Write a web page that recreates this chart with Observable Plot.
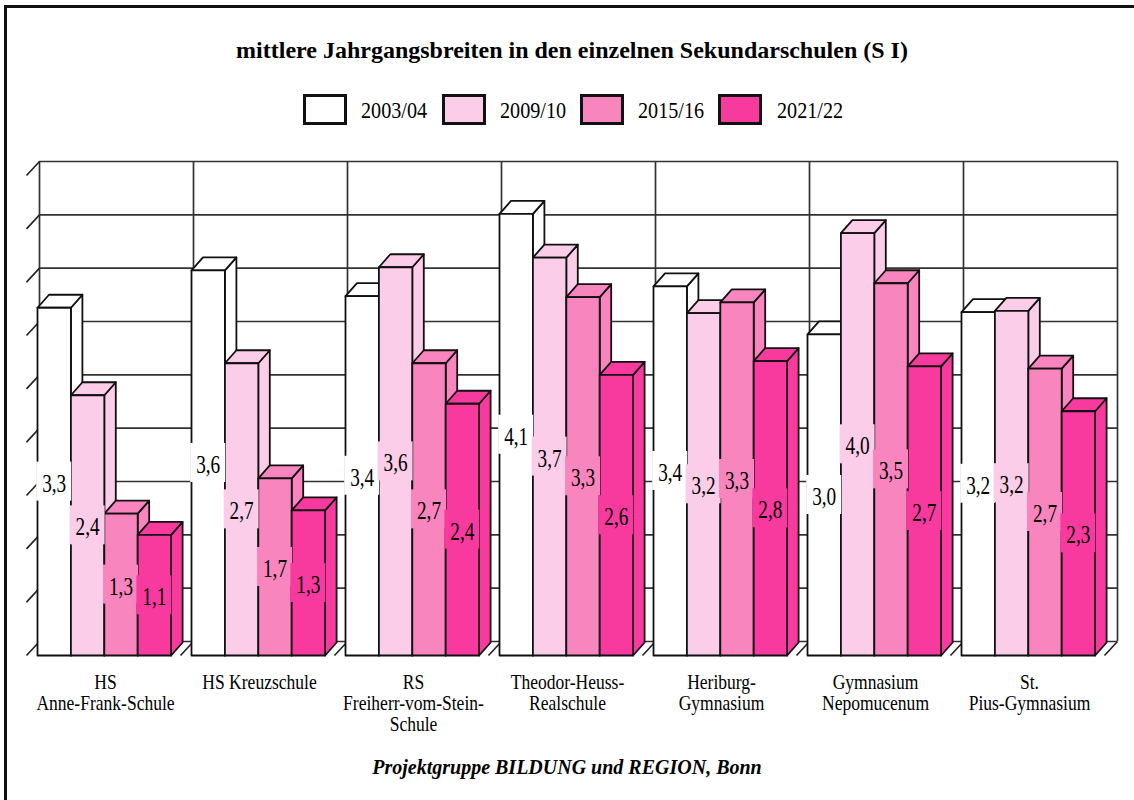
<!DOCTYPE html>
<html><head><meta charset="utf-8">
<script src="https://cdn.jsdelivr.net/npm/d3@7"></script>
<script src="https://cdn.jsdelivr.net/npm/@observablehq/plot@0.6"></script>
<style>
html,body{margin:0;padding:0;background:#fff}
body{width:1134px;height:800px;overflow:hidden;position:relative;font-family:"Liberation Serif",serif;color:#000}
#frame{position:absolute;left:4px;top:5px;width:1130px;height:795px;border-left:3px solid #111;border-top:3px solid #111;box-sizing:border-box;pointer-events:none}
#title{position:absolute;left:0;width:1144px;top:36px;text-align:center;font-weight:bold;font-size:24px;line-height:28px}
#legend .sw{position:absolute;top:94px;width:44px;height:31px;box-sizing:border-box;border:3px solid #111}
#legend .lb{position:absolute;top:96px;font-size:24px;line-height:28px;transform:scaleX(.84);transform-origin:left center;white-space:nowrap}
#caption{position:absolute;left:0;width:1134px;top:754px;text-align:center;font-weight:bold;font-style:italic;font-size:20px;line-height:26px}
#chart{position:absolute;left:0;top:150px}
#chart svg{display:block}
</style></head><body>
<div id="frame"></div>
<div id="title">mittlere Jahrgangsbreiten in den einzelnen Sekundarschulen (S I)</div>
<div id="legend"></div>
<div id="chart"></div>
<div id="caption">Projektgruppe BILDUNG und REGION, Bonn</div>
<script>
const schools = ["HS\nAnne-Frank-Schule","HS Kreuzschule","RS\nFreiherr-vom-Stein-\nSchule","Theodor-Heuss-\nRealschule","Heriburg-\nGymnasium","Gymnasium\nNepomucenum","St.\nPius-Gymnasium"];
const years = ["2003/04","2009/10","2015/16","2021/22"];
const colors = ["#ffffff","#fbcde8","#f985be","#f83a9f"];
// bar heights
const heights2003 = [3.26,3.61,3.37,4.14,3.46,3.01,3.22];
const heights2009 = [2.44,2.74,3.64,3.73,3.21,3.96,3.23];
const heights2015 = [1.33,1.66,2.74,3.36,3.31,3.49,2.69];
const heights2021 = [1.13,1.36,2.36,2.63,2.76,2.71,2.29];
// printed labels
const labels2003 = ["3,3","3,6","3,4","4,1","3,4","3,0","3,2"];
const labels2009 = ["2,4","2,7","3,6","3,7","3,2","4,0","3,2"];
const labels2015 = ["1,3","1,7","2,7","3,3","3,3","3,5","2,7"];
const labels2021 = ["1,1","1,3","2,4","2,6","2,8","2,7","2,3"];
const gridValues = d3.range(0,4.51,0.5);
const allHeights=[heights2003,heights2009,heights2015,heights2021];
const allLabels=[labels2003,labels2009,labels2015,labels2021];

// legend
const legend=d3.select("#legend");
const swatchX=[303,442,580,718], labelX=[361,500,638,777];
years.forEach((y,i)=>{
  legend.append("div").attr("class","sw").style("left",swatchX[i]+"px").style("background",colors[i]);
  legend.append("div").attr("class","lb").style("left",labelX[i]+"px").text(y);
});

// geometry in data units: 154 px per school, 106.67 px per unit
const pxX=1/154, pxY=1/106.67;
const wallDX=13*pxX, wallDY=14*pxY;
const barDX=11.5*pxX, barDY=13*pxY;
const barW=33.4*pxX, barStart=11*pxX;
const polys=[], boxes=[];
schools.forEach((s,g)=>{
  years.forEach((yr,k)=>{
    const v=allHeights[k][g], x0=g+barStart+k*barW, x1=x0+barW, c=colors[k];
    const add=(face,pts)=>pts.concat([pts[0]]).forEach(([x,y])=>polys.push({id:`${g}-${k}-${face}`,fill:c,x,y}));
    add("side",[[x1,0],[x1+barDX,barDY],[x1+barDX,v+barDY],[x1,v]]);
    add("top",[[x0,v],[x0+barDX,v+barDY],[x1+barDX,v+barDY],[x1,v]]);
    add("front",[[x0,0],[x1,0],[x1,v],[x0,v]]);
    boxes.push({x:(x0+x1)/2,y:v/2,fill:c,label:allLabels[k][g]});
  });
});
const boxW=35*pxX, boxH=39*pxY;

const chart=Plot.plot({
  width:1134,height:590,
  marginLeft:26,marginRight:30,marginTop:25,marginBottom:85,
  style:{fontFamily:"Liberation Serif",background:"transparent",color:"#000"},
  x:{domain:[0,7],axis:null},
  y:{domain:[0,4.5],axis:null},
  color:{type:"identity"},
  clip:false,
  marks:[
    Plot.ruleY(gridValues,{x1:0,x2:7,dx:13,dy:-14,stroke:"#333",strokeWidth:1.7}),
    Plot.ruleX(d3.range(0,8),{y1:0,y2:4.5,dx:13,dy:-14,stroke:"#333",strokeWidth:1.7}),
    Plot.link(gridValues,{x1:()=>0,x2:()=>wallDX,y1:d=>d,y2:d=>d+wallDY,stroke:"#222",strokeWidth:1.6}),
    Plot.link(d3.range(1,8),{x1:d=>d,x2:d=>d+wallDX,y1:()=>0,y2:()=>wallDY,stroke:"#222",strokeWidth:1.6}),
    Plot.line(polys,{x:"x",y:"y",z:"id",fill:"fill",stroke:"#111",strokeWidth:1.8,strokeMiterlimit:10,curve:"linear"}),
    Plot.rect(boxes,{x1:d=>d.x-boxW/2,x2:d=>d.x+boxW/2,y1:d=>d.y-boxH/2,y2:d=>d.y+boxH/2,fill:"fill",inset:0}),
    Plot.text(boxes,{x:"x",y:"y",dy:2,text:"label",fontSize:25,fill:"#000"}),
    Plot.axisX(d3.range(0,7).map(d=>d+0.5),{tickSize:0,tickPadding:19,dx:2,tickFormat:d=>schools[d-0.5],fontSize:21,lineHeight:1,label:null,textAnchor:"middle",ariaLabel:"school"})
  ]
});
document.getElementById("chart").append(chart);
const squeeze=(sel,k)=>d3.select(chart).selectAll(sel).attr("transform",function(){return (this.getAttribute("transform")||"")+` scale(${k},1)`});
squeeze('g[aria-label="text"] text',0.77);
squeeze('g[aria-label^="school"] text',0.835);
</script>
</body></html>
